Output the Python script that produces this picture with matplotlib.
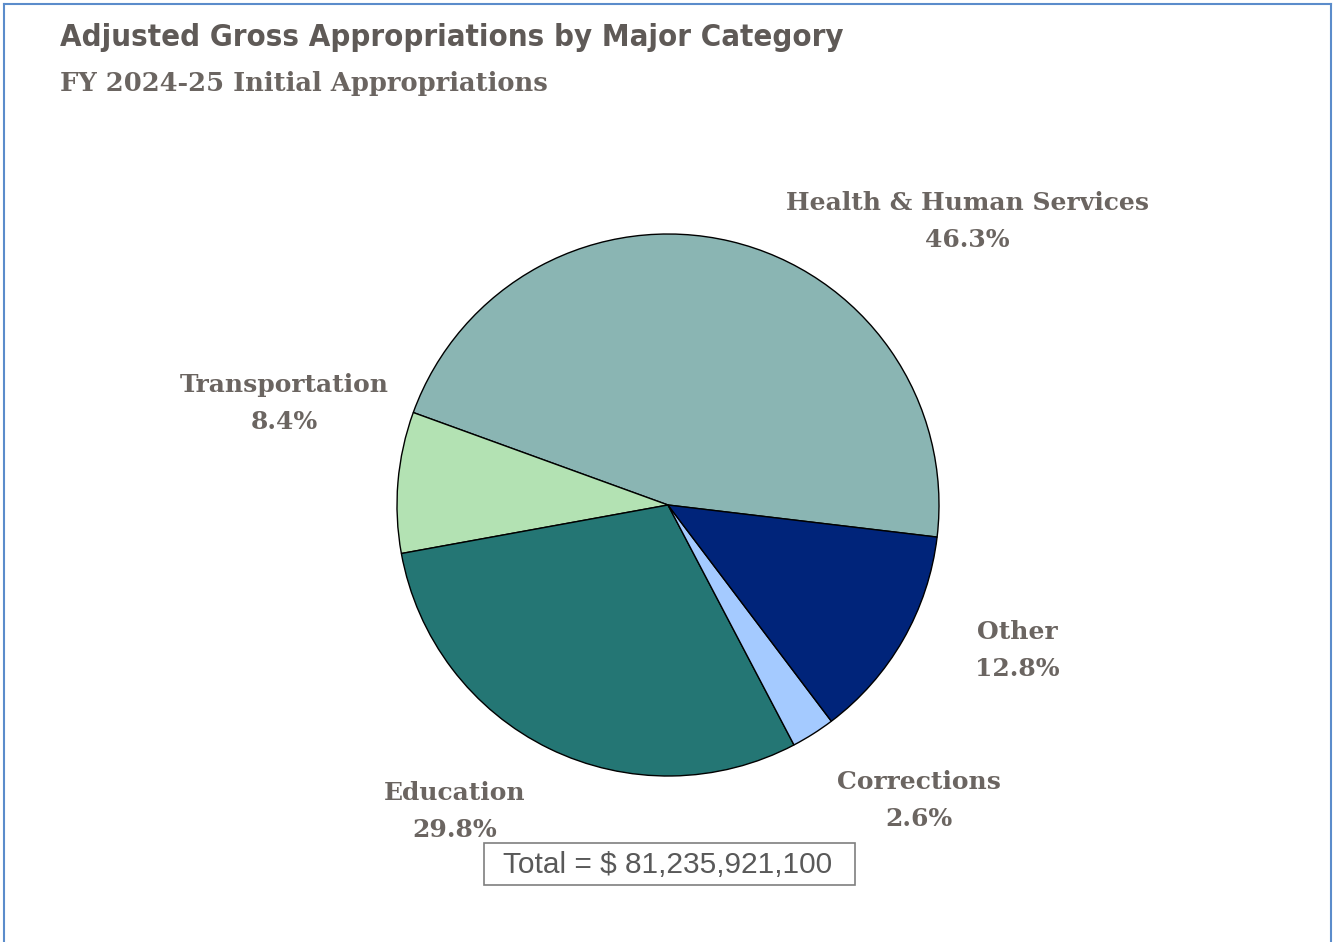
import matplotlib
matplotlib.use("Agg")
from matplotlib import pyplot as plt
from matplotlib.patches import Rectangle

# data (counter-clockwise from the HHS / Other boundary)
categories = ["Health & Human Services", "Transportation", "Education", "Corrections", "Other"]
shares = [46.3, 8.4, 29.8, 2.6, 12.8]
colors = ["#8ab5b3", "#b3e2b3", "#247674", "#a4caff", "#00247a"]
total_text = "Total = $ 81,235,921,100"

# label placement in pixels (center x, top line y)
label_pos = {
    "Health & Human Services": (967, 203),
    "Transportation": (284, 385),
    "Education": (455, 793),
    "Corrections": (919, 782),
    "Other": (1017, 632),
}

W, H = 1334, 942
fig = plt.figure(figsize=(W / 100, H / 100), dpi=100)

# pie axes: center (668, 505), radius 271 px
cx, cy, r = 668, 505, 271
ax = fig.add_axes([(cx - r) / W, (H - cy - r) / H, 2 * r / W, 2 * r / H])
ax.pie(shares, colors=colors, startangle=-6.8, counterclock=True,
       wedgeprops=dict(edgecolor="black", linewidth=1.0))
ax.set_xlim(-1, 1)
ax.set_ylim(-1, 1)
ax.set_aspect("equal")
ax.axis("off")

grey = "#6b6561"
serif = ["DejaVu Serif"]
for cat, pct in zip(categories, shares):
    x, y = label_pos[cat]
    fig.text(x / W, 1 - y / H, cat, ha="center", va="center", fontsize=18,
             fontweight="bold", family=serif, color=grey)
    fig.text(x / W, 1 - (y + 37) / H, "%.1f%%" % pct, ha="center", va="center",
             fontsize=18, fontweight="bold", family=serif, color=grey)

# titles
fig.text(60 / W, 1 - 38 / H, "Adjusted Gross Appropriations by Major Category",
         ha="left", va="center", fontsize=22.3, fontweight="heavy", fontstretch="condensed",
         family=["DejaVu Sans"], color="#5f5a57")
fig.text(60 / W, 1 - 83 / H, "FY 2024-25 Initial Appropriations",
         ha="left", va="center", fontsize=18.5, fontweight="bold",
         family=serif, color=grey)

# total box
fig.patches.append(Rectangle((484 / W, 1 - 885 / H), (855 - 484) / W, 42 / H,
                             transform=fig.transFigure, fill=False,
                             edgecolor="#7f7f7f", linewidth=1.2))
fig.text(668 / W, 1 - 865 / H, total_text, ha="center", va="center",
         fontsize=21.5, family=["Liberation Sans", "DejaVu Sans"], color="#595959")

# outer blue frame (bottom edge cut off)
frame = "#5b8ccb"
fig.add_artist(plt.Line2D([4 / W, 4 / W], [0, 1 - 4 / H], transform=fig.transFigure,
                          color=frame, linewidth=1.5))
fig.add_artist(plt.Line2D([4 / W, 1331 / W], [1 - 4 / H, 1 - 4 / H],
                          transform=fig.transFigure, color=frame, linewidth=1.5))
fig.add_artist(plt.Line2D([1331 / W, 1331 / W], [0, 1 - 4 / H],
                          transform=fig.transFigure, color=frame, linewidth=1.5))

fig.savefig("out.png", dpi=100)
